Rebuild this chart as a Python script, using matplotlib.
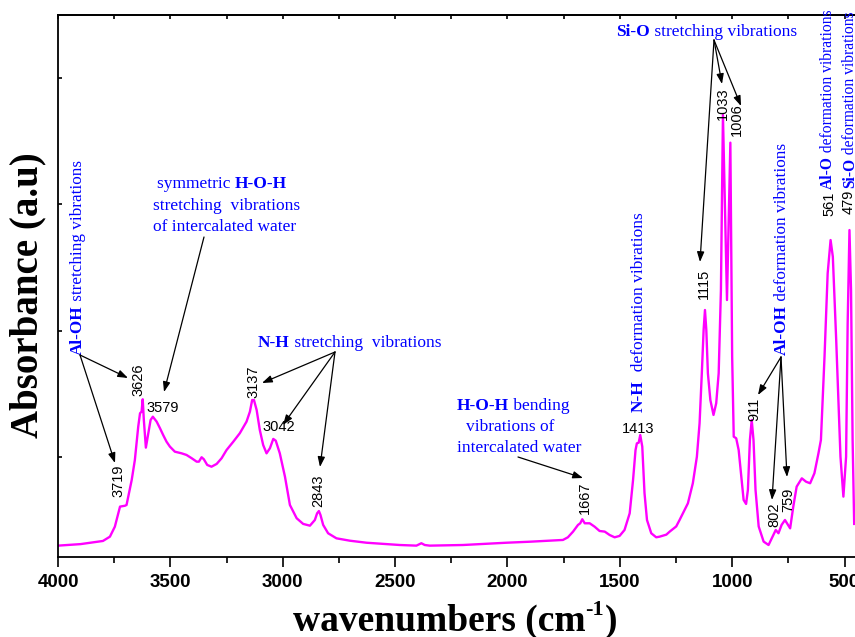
import matplotlib.pyplot as plt
import numpy as np

# spectrum (cm-1, arbitrary absorbance)
wavenumber = [4000, 3900, 3800, 3769, 3747, 3732, 3724, 3702, 3695, 3672, 3658, 3643,
              3635, 3628, 3623, 3618, 3609, 3598, 3588, 3578, 3561, 3546, 3532, 3517,
              3502, 3480, 3450, 3428, 3405, 3383, 3373, 3361, 3351, 3336, 3317, 3294,
              3272, 3250, 3220, 3191, 3161, 3146, 3136, 3128, 3116, 3102, 3087, 3072,
              3057, 3042, 3031, 3013, 2990, 2968, 2938, 2909, 2879, 2857, 2847, 2839,
              2832, 2820, 2798, 2761, 2701, 2627, 2479, 2405, 2383, 2368, 2346, 2198,
              2005, 1901, 1753, 1731, 1708, 1686, 1676, 1667, 1656, 1634, 1612, 1590,
              1567, 1545, 1523, 1501, 1479, 1456, 1441, 1430, 1424, 1416, 1409, 1400,
              1390, 1379, 1360, 1338, 1323, 1293, 1278, 1249, 1234, 1197, 1175, 1157,
              1145, 1135, 1127, 1121, 1115, 1108, 1097, 1083, 1071, 1060, 1054, 1050,
              1041, 1023, 1008, 1000, 993, 982, 971, 959, 949, 938, 930, 921,
              913, 905, 896, 882, 860, 838, 820, 806, 794, 780, 765, 742,
              728, 713, 690, 671, 653, 634, 616, 605, 589, 575, 562, 552,
              537, 518, 505, 493, 486, 478, 471, 464, 457]
absorbance = [0.298, 0.310, 0.335, 0.369, 0.448, 0.554, 0.607, 0.614, 0.620, 0.818, 0.976, 1.240,
              1.346, 1.360, 1.457, 1.293, 1.074, 1.188, 1.293, 1.319, 1.280, 1.227, 1.174, 1.121,
              1.082, 1.042, 1.029, 1.016, 0.990, 0.963, 0.963, 0.998, 0.982, 0.937, 0.923, 0.945,
              0.990, 1.055, 1.121, 1.188, 1.280, 1.359, 1.451, 1.451, 1.372, 1.214, 1.095, 1.029,
              1.069, 1.143, 1.129, 1.029, 0.844, 0.620, 0.515, 0.470, 0.456, 0.501, 0.554, 0.572,
              0.541, 0.462, 0.396, 0.356, 0.337, 0.321, 0.303, 0.298, 0.317, 0.303, 0.298, 0.303,
              0.321, 0.329, 0.343, 0.364, 0.409, 0.462, 0.475, 0.507, 0.475, 0.475, 0.448, 0.414,
              0.409, 0.382, 0.364, 0.375, 0.422, 0.554, 0.818, 1.055, 1.108, 1.113, 1.174, 1.082,
              0.713, 0.501, 0.396, 0.364, 0.369, 0.385, 0.409, 0.450, 0.501, 0.633, 0.792, 1.002,
              1.267, 1.663, 2.006, 2.164, 2.006, 1.663, 1.451, 1.333, 1.425, 1.663, 2.059, 2.322,
              3.708, 2.243, 3.489, 1.794, 1.161, 1.148, 1.055, 0.844, 0.660, 0.628, 0.739, 1.135,
              1.293, 1.135, 0.739, 0.450, 0.330, 0.303, 0.369, 0.422, 0.396, 0.462, 0.501, 0.435,
              0.607, 0.765, 0.831, 0.804, 0.792, 0.871, 1.029, 1.135, 1.794, 2.454, 2.718, 2.586,
              1.926, 1.002, 0.686, 1.002, 2.059, 2.797, 2.322, 1.135, 0.470]

peak_labels = ['3719', '3626', '3579', '3137', '3042', '2843', '1667', '1413',
               '1115', '1033', '1006', '911', '802', '759', '561', '479']
# label centre in image pixels (x, y from top) and rotation
peak_layout = [(118, 481, 90), (138, 380, 90), (163, 408, 0), (253, 382, 90),
               (279, 427, 0), (318, 491, 90), (585, 498, 90), (638, 429, 0),
               (704, 284, 90), (723, 104, 90), (737, 120, 90), (754, 409, 90),
               (774, 515, 90), (788, 500, 90), (829, 204, 90), (849, 202, 90)]

BLUE = '#0000ff'
W, H = 855, 637

plt.rcParams['font.family'] = 'Liberation Sans'

fig = plt.figure(figsize=(W / 100, H / 100), dpi=100)
ax = fig.add_axes([58 / W, 80 / H, 800 / W, 542 / H])
ax.plot(wavenumber, absorbance, color='#ff00ff', lw=1.7)

ax.set_xlim(4000, 440)
ax.set_ylim(0.208, 4.5)
ax.set_xticks(np.arange(4000, 400, -500))
ax.set_xticks(np.arange(3750, 400, -500), minor=True)
ax.set_yticks([1, 2, 3, 4])
ax.set_yticklabels([])
ax.tick_params(axis='x', which='major', direction='out', length=7, width=1.2, pad=5,
               labelsize=13.5)
ax.tick_params(axis='x', which='minor', direction='out', length=4.3, width=1.2)
ax.tick_params(axis='y', direction='in', length=3, width=1.2)
for lbl in ax.get_xticklabels():
    lbl.set_fontweight('bold')
ax.spines['right'].set_visible(False)
for s in ['left', 'bottom', 'top']:
    ax.spines[s].set_linewidth(1.3)

top = ax.secondary_xaxis('top')
top.set_xticks(np.arange(4000, 400, -250))
top.tick_params(direction='in', length=3, width=1.2, labeltop=False)
top.spines['top'].set_linewidth(1.3)


def fpx(x, y):
    return (x, H - y)


def rich(parts, x, y, size, rot=0):
    prev = None
    for txt, bold in parts:
        kw = dict(fontsize=size, color=BLUE, family='Liberation Serif',
                  weight='bold' if bold else 'normal', rotation=rot, annotation_clip=False)
        if prev is None:
            if rot:
                prev = ax.annotate(txt, fpx(x, y), xycoords='figure pixels',
                                   ha='center', va='bottom', **kw)
            else:
                prev = ax.annotate(txt, fpx(x, y), xycoords='figure pixels',
                                   ha='left', va='baseline', **kw)
        elif rot:
            prev = ax.annotate(txt, (0.5, 1), xycoords=prev, ha='center', va='bottom', **kw)
        else:
            prev = ax.annotate(txt, (1, 0), xycoords=prev, ha='left', va='bottom', **kw)


def arrow(frm, to):
    ax.annotate('', xy=fpx(*to), xycoords='figure pixels',
                xytext=fpx(*frm), textcoords='figure pixels', annotation_clip=False,
                arrowprops=dict(arrowstyle='-|>,head_length=0.5,head_width=0.18',
                                color='black', lw=0.9, shrinkA=0, shrinkB=0,
                                mutation_scale=12))


# blue annotations
rich([('Al-OH', True), (' stretching vibrations', False)], 78, 355, 12.3, 90)
rich([('symmetric ', False), ('H-O-H', True)], 157, 188, 12.5)
rich([('stretching  vibrations', False)], 153, 210, 12.5)
rich([('of intercalated water', False)], 153, 231, 12.5)
rich([('N-H', True), (' stretching  vibrations', False)], 258, 347, 12.5)
rich([('H-O-H', True), (' bending', False)], 457, 410, 12.5)
rich([('vibrations of', False)], 466, 431, 12.5)
rich([('intercalated water', False)], 457, 452, 12.5)
rich([('N-H', True), ('  deformation vibrations', False)], 639, 412, 12.5, 90)
rich([('Si-O', True), (' stretching vibrations', False)], 616, 36, 12.5)
rich([('Al-OH', True), (' deformation vibrations', False)], 782, 355, 12.4, 90)
rich([('Al-O', True), (' deformation vibrations', False)], 828, 189, 11.2, 90)
rich([('Si-O', True), (' deformation vibrations', False)], 850, 188, 11.2, 90)

arrows = [((80, 355), (128, 378)), ((80, 355), (115, 463)), ((204, 237), (164, 392)),
          ((335, 352), (262, 383)), ((335, 352), (283, 425)), ((335, 352), (320, 467)),
          ((518, 457), (583, 478)), ((714, 40), (700, 262)), ((714, 40), (722, 84)),
          ((714, 40), (741, 106)), ((781, 357), (758, 395)), ((781, 357), (772, 500)),
          ((781, 357), (787, 477))]
for a, b in arrows:
    arrow(a, b)

for lbl, (x, y, rot) in zip(peak_labels, peak_layout):
    ax.annotate(lbl, fpx(x, y), xycoords='figure pixels', ha='center', va='center',
                rotation=rot, fontsize=10.5, annotation_clip=False)

# axis titles
serif = dict(family='Liberation Serif', weight='bold')
xl = ax.annotate('wavenumbers (cm', fpx(293, 631), xycoords='figure pixels',
                 ha='left', va='baseline', fontsize=27, annotation_clip=False, **serif)
sup = ax.annotate('-1', (1, 0.55), xycoords=xl, ha='left', va='bottom',
                  fontsize=16, annotation_clip=False, **serif)
ax.annotate(')', (1, 0), xycoords=(sup, xl), ha='left', va='bottom',
            fontsize=27, annotation_clip=False, **serif)
fig.text(28 / W, 1 - 295 / H, 'Absorbance (a.u)', rotation=90, ha='center', va='center',
         fontsize=28, **serif)

fig.savefig('out.png', dpi=100)
